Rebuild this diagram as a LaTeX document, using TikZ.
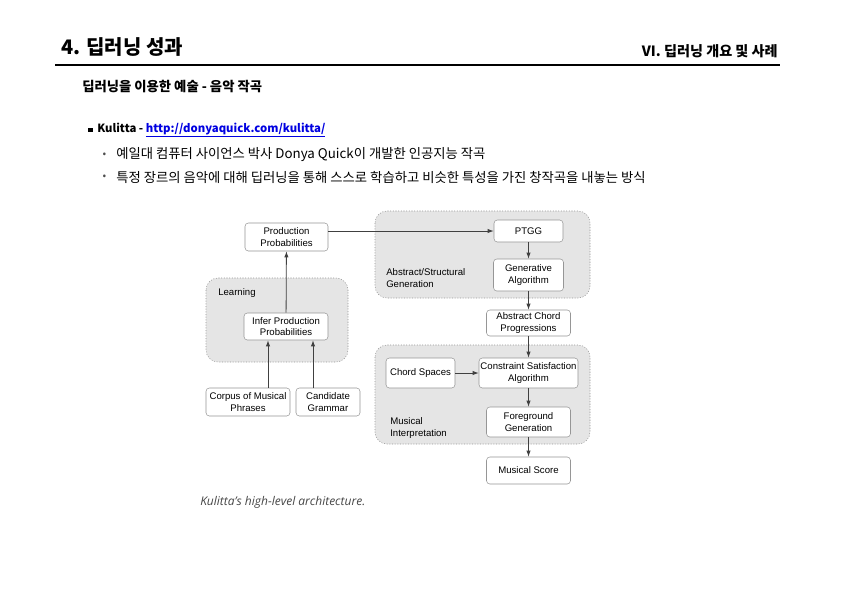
\documentclass[tikz,border=0pt]{standalone}
\usepackage{fontspec}
\setmainfont{Noto Sans CJK KR}
\newfontfamily\arialfont{Liberation Sans}
\newfontfamily\capfont{Open Sans}
\usetikzlibrary{arrows.meta}

\definecolor{linkblue}{RGB}{0,0,225}
\definecolor{regiongray}{RGB}{229,229,229}
\definecolor{edgegray}{RGB}{150,150,150}
\definecolor{capgray}{RGB}{70,70,70}

\tikzset{
  box/.style={draw=edgegray, fill=white, rounded corners=2.5pt, align=center, inner sep=0pt,
    font=\arialfont\fontsize{7.2}{8.4}\selectfont},
  region/.style={draw=edgegray, dash pattern=on 0.8pt off 1.2pt, fill=regiongray, rounded corners=9pt},
  regionlabel/.style={anchor=west, align=left, inner sep=0pt, font=\arialfont\fontsize{7.2}{8.4}\selectfont},
  flow/.style={draw=black!75, line width=0.6pt, -{Latex[length=4.5pt,width=3.2pt]}},
}

\begin{document}
\begin{tikzpicture}[x=0.75pt,y=0.75pt,yscale=-1,xscale=1]

\useasboundingbox (0,0) rectangle (842,596);
\fill [white] (0,0) rectangle (842,596);

%Header
\draw (61,47) node [anchor=west, inner sep=0pt, font=\bfseries\fontsize{15}{17}\selectfont] (title) {4. 딥러닝 성과};
\draw (778,51) node [anchor=east, inner sep=0pt, font=\bfseries\fontsize{10.6}{12}\selectfont] (chapter) {VI. 딥러닝 개요 및 사례};
%Straight Lines
\draw [line width=1.8pt] (55,65) -- (780,65) ;
\draw (82,87) node [anchor=west, inner sep=0pt, font=\bfseries\fontsize{10}{12}\selectfont] (subtitle) {딥러닝을 이용한 예술 - 음악 작곡};

%Bullets
\draw (90.5,130) node [fill=black, inner sep=0pt, minimum size=3.6pt] (sq) {};
\draw (97,130) node [anchor=west, inner sep=0pt, font=\bfseries\fontsize{8.5}{10}\selectfont] (kulitta) {Kulitta - \textcolor{linkblue}{\underline{http://donyaquick.com/kulitta/}}};
\draw (104.5,155) node [inner sep=0pt, text=black!70, font=\fontsize{8}{9}\selectfont] (dotA) {•};
\draw (116,155) node [anchor=west, inner sep=0pt, font=\fontsize{10}{12}\selectfont] (lineA) {예일대 컴퓨터 사이언스 박사 Donya Quick이 개발한 인공지능 작곡};
\draw (104.5,177) node [inner sep=0pt, text=black!70, font=\fontsize{8}{9}\selectfont] (dotB) {•};
\draw (116,177) node [anchor=west, inner sep=0pt, font=\fontsize{10}{12}\selectfont] (lineB) {특정 장르의 음악에 대해 딥러닝을 통해 스스로 학습하고 비슷한 특성을 가진 창작곡을 내놓는 방식};

%Shape: Regions
\draw [region] (206,278) rectangle (348,362) ;
\draw [region] (375,211) rectangle (590,298) ;
\draw [region] (375,345) rectangle (590,444) ;

\draw (218,293) node [regionlabel] (learnlbl) {Learning};
\draw (386,278) node [regionlabel] (abslbl) {Abstract/Structural\\Generation};
\draw (390,428) node [regionlabel] (muslbl) {Musical\\Interpretation};

%Boxes
\draw (286.5,237) node [box, minimum width=62.25pt, minimum height=21pt] (prodprob) {Production\\Probabilities};
\draw (286,326.5) node [box, minimum width=63pt, minimum height=20.25pt] (infer) {Infer Production\\Probabilities};
\draw (248,402) node [box, minimum width=63pt, minimum height=21pt] (corpus) {Corpus of Musical\\Phrases};
\draw (328,402) node [box, minimum width=48pt, minimum height=21pt] (grammar) {Candidate\\Grammar};
\draw (528.5,231) node [box, minimum width=51.75pt, minimum height=16.5pt] (ptgg) {PTGG};
\draw (528.5,275) node [box, minimum width=52.5pt, minimum height=24pt] (genalg) {Generative\\Algorithm};
\draw (528.5,323) node [box, minimum width=63pt, minimum height=19.5pt] (chordprog) {Abstract Chord\\Progressions};
\draw (420.5,373) node [box, minimum width=51.75pt, minimum height=22.5pt] (chordsp) {Chord Spaces};
\draw (528.5,373) node [box, minimum width=74.25pt, minimum height=22.5pt] (csa) {Constraint Satisfaction\\Algorithm};
\draw (528.5,422) node [box, minimum width=63pt, minimum height=22.5pt] (fggen) {Foreground\\Generation};
\draw (528.5,470.5) node [box, minimum width=63pt, minimum height=20.25pt] (score) {Musical Score};

%Connectors
\draw [flow] ([xshift=15pt]corpus.north) -- ([xshift=15pt]corpus.north |- infer.south) ;
\draw [flow] ([xshift=-11.25pt]grammar.north) -- ([xshift=-11.25pt]grammar.north |- infer.south) ;
\draw [flow] (infer) -- (prodprob) ;
\draw [flow] (prodprob.east |- ptgg.west) -- (ptgg.west) ;
\draw [flow] (ptgg) -- (genalg) ;
\draw [flow] (genalg) -- (chordprog) ;
\draw [flow] (chordprog) -- (csa) ;
\draw [flow] (chordsp) -- (csa) ;
\draw [flow] (csa) -- (fggen) ;
\draw [flow] (fggen) -- (score) ;

%Caption
\draw (200,502) node [anchor=west, inner sep=0pt, text=capgray, font=\capfont\itshape\fontsize{9}{11}\selectfont] (caption) {Kulitta’s high-level architecture.};

\end{tikzpicture}
\end{document}
